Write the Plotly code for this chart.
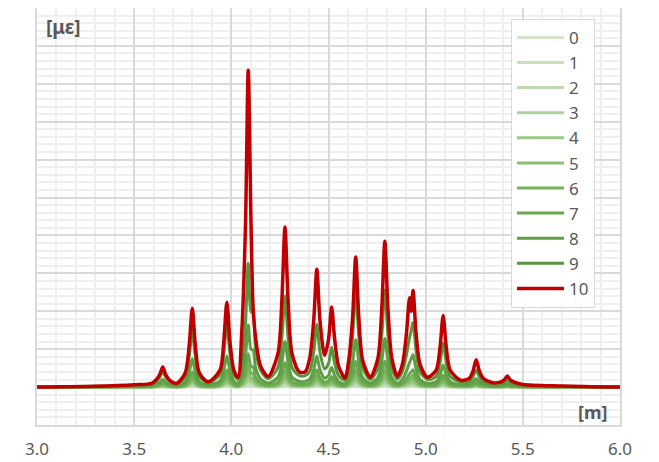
import plotly.graph_objects as go

# position along the member [m]
x_m = [3.000, 3.300, 3.500, 3.590, 3.611, 3.631, 3.647, 3.663, 3.683, 3.720,
       3.763, 3.783, 3.799, 3.815, 3.835, 3.880, 3.941, 3.961, 3.977, 3.993,
       4.013, 4.035, 4.053, 4.073, 4.087, 4.101, 4.112, 4.125, 4.150, 4.190,
       4.240, 4.260, 4.276, 4.292, 4.312, 4.350, 4.380, 4.404, 4.424, 4.440,
       4.456, 4.480, 4.500, 4.516, 4.532, 4.552, 4.585, 4.604, 4.624, 4.640,
       4.656, 4.676, 4.715, 4.754, 4.774, 4.790, 4.806, 4.826, 4.855, 4.881,
       4.901, 4.917, 4.926, 4.935, 4.951, 4.971, 5.010, 5.054, 5.074, 5.090,
       5.106, 5.126, 5.180, 5.224, 5.244, 5.260, 5.276, 5.296, 5.340, 5.384,
       5.404, 5.420, 5.436, 5.456, 5.500, 5.700, 6.000]

# strain [micro-strain] per load step
s0 = [0,0,0,0,0,0,0,0,0,0, 0,1,1,1,0,0,0,1,1,1, 0,0,0,1,3,2,2,1,0,0,
      0,1,2,1,0,0,0,0,1,1, 1,0,0,1,0,0,0,0,1,2, 1,0,0,0,1,2,1,0,0,0,
      1,1,1,1,1,0,0,0,0,1, 0,0,0,0,0,0,0,0,0,0, 0,0,0,0,0,0,0]
s1 = [0,0,0,0,0,0,1,0,0,0, 1,2,3,2,1,0,1,2,3,2, 1,0,1,3,7,4,4,2,1,0,
      1,3,5,3,1,1,1,1,2,3, 2,1,1,2,1,1,0,1,3,5, 3,1,0,1,3,5,3,1,0,1,
      2,3,3,3,2,1,0,1,1,2, 1,1,0,0,1,1,1,0,0,0, 0,0,0,0,0,0,0]
s2 = [0,0,0,0,1,1,2,1,1,0, 1,3,6,3,1,0,1,4,7,4, 1,1,2,7,13,8,8,4,2,1,
      2,5,10,5,2,1,1,2,4,7, 4,2,2,4,2,1,1,2,5,10, 5,2,1,2,5,10,5,2,1,2,
      3,5,6,7,4,2,1,1,3,5, 3,1,1,1,1,2,1,1,0,0, 0,1,0,0,0,0,0]
s3 = [0,0,0,0,1,2,2,2,1,0, 2,5,9,5,2,1,2,5,10,5, 2,1,3,10,20,12,12,6,3,1,
      3,8,14,8,3,2,2,3,6,10, 6,3,4,6,4,2,1,3,8,15, 8,3,1,3,8,15,8,3,1,3,
      5,8,9,10,6,2,1,2,4,7, 4,2,1,1,2,3,2,1,1,1, 1,1,1,1,0,0,0]
s4 = [0,0,0,1,1,2,3,2,1,1, 2,7,13,7,2,1,3,7,14,7, 3,2,5,14,28,17,17,9,4,2,
      4,11,20,11,4,3,3,4,8,14, 8,4,5,9,5,3,2,4,11,21, 11,4,2,4,12,22,12,4,2,4,
      7,11,13,15,8,3,2,2,5,10, 5,2,1,1,2,4,2,1,1,1, 1,2,1,1,0,0,0]
s5 = [0,0,1,1,2,3,5,3,2,1, 3,10,18,10,3,1,4,11,20,11, 4,2,7,20,39,24,23,12,5,3,
      6,16,29,16,6,4,4,5,11,20, 11,6,7,13,7,4,2,6,16,30, 16,6,2,6,16,31,16,6,3,5,
      10,16,18,21,11,5,2,3,8,14, 8,3,2,2,3,5,3,2,1,1, 1,2,1,1,1,0,0]
s6 = [0,0,1,1,3,5,7,5,3,1, 5,14,27,14,5,2,6,16,30,16, 6,4,10,31,59,36,35,18,8,4,
      9,23,43,23,9,5,5,8,17,30, 17,9,11,19,11,5,3,9,24,45, 24,9,4,9,24,46,24,9,4,8,
      15,23,27,31,17,7,4,5,12,21, 12,5,3,3,5,8,5,3,2,2, 2,3,2,2,1,0,0]
s7 = [0,1,1,2,4,7,11,7,4,2, 8,22,40,22,8,3,9,24,45,24, 9,5,16,46,88,54,53,27,12,6,
      14,35,65,35,14,8,8,11,25,45, 25,13,17,28,17,8,5,14,36,68, 36,14,5,14,37,69,37,14,6,11,
      23,35,40,46,25,11,5,8,17,31, 17,8,4,4,7,12,7,4,2,2, 3,5,3,2,1,1,0]
s8 = [0,1,2,4,7,12,20,12,7,4, 14,40,75,40,14,6,16,44,82,44, 16,10,29,85,164,100,98,50,22,11,
      26,65,120,65,26,15,15,21,46,82, 46,24,31,52,31,15,9,25,67,125, 67,25,10,25,68,128,68,25,10,21,
      42,65,75,86,47,20,10,14,32,58, 32,14,7,8,14,22,14,8,4,4, 6,9,6,4,2,1,0]
s9 = [0,2,5,8,14,25,40,25,14,8, 28,80,150,80,28,11,33,88,165,88, 33,20,58,170,327,200,195,100,45,22,
      52,130,240,130,52,30,30,42,93,165, 93,48,62,105,62,30,18,51,134,250, 134,51,20,50,136,256,136,50,21,42,
      85,130,150,171,94,40,20,28,64,116, 64,28,14,15,27,45,27,15,9,9, 12,18,12,9,5,2,0]
s10 = [0,2,6,10,18,32,53,32,18,10, 38,109,208,109,38,14,44,120,224,120, 44,26,139,431,836,440,210,130,56,28,
       89,229,422,229,89,40,40,78,176,311, 176,84,125,211,125,55,24,70,184,343, 184,70,26,76,206,385,206,76,28,62,
       140,236,200,255,140,60,26,45,105,189, 105,45,18,23,43,72,43,23,12,13, 19,29,19,13,7,3,0]

series = [s0, s1, s2, s3, s4, s5, s6, s7, s8, s9, s10]
names = ["0", "1", "2", "3", "4", "5", "6", "7", "8", "9", "10"]
for s in series:
    assert len(s) == len(x_m), len(s)

colors = ["#d3e6cc", "#c7dfbd", "#bcd9b0", "#aed1a0", "#9bc987", "#88bf70",
          "#76b35a", "#6aa84f", "#609e45", "#57943b", "#c00000"]

fig = go.Figure()
for i, (s, n) in enumerate(zip(series, names)):
    fig.add_trace(go.Scatter(
        x=x_m, y=s, name=n, mode="lines",
        line=dict(color=colors[i], width=3.5 if i == 10 else 3,
                  shape="spline", smoothing=0.8),
    ))

grey = "#595959"
fig.update_layout(
    width=651, height=454,
    margin=dict(l=29, r=39, t=0, b=37),
    paper_bgcolor="white", plot_bgcolor="white",
    font=dict(family="Noto Sans", color=grey),
    showlegend=True,
    legend=dict(
        x=0.813, y=0.974, xanchor="left", yanchor="top",
        bgcolor="white", bordercolor="#d9d9d9", borderwidth=1,
        font=dict(size=17, color=grey), tracegroupgap=0, itemwidth=47,
    ),
    xaxis=dict(
        range=[3, 6], dtick=0.5, tickformat=".1f", automargin=False,
        showgrid=True, gridcolor="#d9d9d9", gridwidth=1.5,
        minor=dict(dtick=0.1, showgrid=True, gridcolor="#efefef", gridwidth=2),
        showline=True, linecolor="#d9d9d9", linewidth=1.5, mirror=True,
        zeroline=False, ticks="", tickfont=dict(size=17, color=grey),
        ticklabelstandoff=8,
    ),
    yaxis=dict(
        range=[-100, 1000], dtick=100, showticklabels=False, automargin=False,
        showgrid=True, gridcolor="#d9d9d9", gridwidth=1.5,
        minor=dict(dtick=20, showgrid=True, gridcolor="#efefef", gridwidth=2),
        showline=True, linecolor="#d9d9d9", linewidth=1.5, mirror=True,
        zeroline=False, ticks="",
    ),
    annotations=[
        dict(text="<b>[με]</b>", xref="paper", yref="paper", x=0.012, y=0.954,
             xanchor="left", yanchor="middle", showarrow=False,
             font=dict(size=19, color=grey)),
        dict(text="<b>[m]</b>", xref="paper", yref="paper", x=0.952, y=0.031,
             xanchor="center", yanchor="middle", showarrow=False,
             font=dict(size=18, color=grey)),
    ],
)

fig.write_html("out.html")
